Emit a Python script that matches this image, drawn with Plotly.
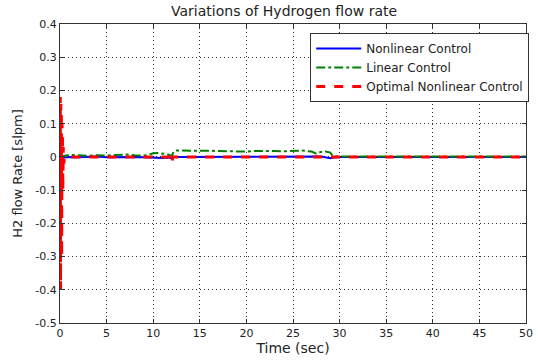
import plotly.graph_objects as go

# ---- data ----
t_nl = [0, 0.2, 0.5, 1, 2, 3, 4, 5, 6, 7, 8, 9, 10, 10.5, 11, 11.5, 12, 12.3, 13, 15, 18, 20, 22, 25, 27, 28, 29, 29.3, 30, 35, 40, 45, 50]
y_nl = [0, 0.002, -0.002, 0, -0.001, 0, 0.001, -0.001, 0, 0.001, 0, -0.001, -0.002, -0.004, -0.003, -0.002, -0.003, 0, 0, 0.001, 0, 0, 0.001, 0, 0, 0.001, -0.004, -0.002, 0, 0, 0, 0, 0]

t_lin = [0, 0.5, 1, 2, 3, 4, 5, 6, 7, 8, 9, 9.5, 10, 10.5, 11, 11.5, 12, 12.2, 12.5, 13, 14, 15, 16, 17, 18, 19, 20, 21, 22, 23, 24, 25, 26, 27, 27.5, 28, 28.5, 29, 29.3, 30, 35, 40, 45, 50]
y_lin = [0, 0.004, 0.006, 0.005, 0.003, 0.005, 0.004, 0.006, 0.007, 0.005, 0.004, 0.006, 0.011, 0.012, 0.010, 0.008, 0.003, 0.016, 0.019, 0.019, 0.020, 0.020, 0.019, 0.018, 0.017, 0.016, 0.016, 0.018, 0.019, 0.018, 0.017, 0.018, 0.019, 0.016, 0.010, 0.015, 0.016, 0.013, 0.002, 0.001, 0.001, 0.001, 0.001, 0.001]

t_opt = [0, 0.03, 0.06, 0.09, 0.12, 0.15, 0.18, 0.21, 0.24, 0.27, 0.3, 0.35, 0.4, 0.5, 1, 2, 4, 6, 8, 10, 11, 11.9, 12.0, 12.1, 12.3, 15, 20, 25, 30, 35, 40, 45, 50]
y_opt = [0, 0.18, -0.40, 0.16, -0.38, 0.12, -0.30, 0.10, -0.20, 0.06, -0.10, 0.03, -0.02, 0, 0, 0, 0, 0, 0, 0, 0, 0, -0.018, 0, 0, 0, 0, 0, 0, 0, 0, 0, 0]

x_ticks = [0, 5, 10, 15, 20, 25, 30, 35, 40, 45, 50]
y_ticks = [-0.5, -0.4, -0.3, -0.2, -0.1, 0, 0.1, 0.2, 0.3, 0.4]
y_tick_text = ["-0.5", "-0.4", "-0.3", "-0.2", "-0.1", "0", "0.1", "0.2", "0.3", "0.4"]

fig = go.Figure()
fig.add_trace(go.Scatter(x=t_nl, y=y_nl, mode="lines", name="Nonlinear Control",
                         line=dict(color="#0000ff", width=2)))
fig.add_trace(go.Scatter(x=t_lin, y=y_lin, mode="lines", name="Linear Control",
                         line=dict(color="#008000", width=2, dash="dashdot")))
fig.add_trace(go.Scatter(x=t_opt, y=y_opt, mode="lines", name="Optimal Nonlinear Control",
                         line=dict(color="#ff0000", width=3, dash="dash")))

font = "DejaVu Sans, sans-serif"
axis_common = dict(showline=True, linecolor="#333333", linewidth=1, mirror="ticks",
                   ticks="inside", ticklen=4, tickcolor="#333333",
                   showgrid=True, gridcolor="#333333", gridwidth=1, griddash="1px,3px",
                   zeroline=False, ticklabeloverflow="allow",
                   tickfont=dict(family=font, size=11, color="#222222"))

fig.update_layout(
    width=538, height=362,
    margin=dict(l=60, r=5, t=24, b=39),
    paper_bgcolor="white", plot_bgcolor="white",
    title=dict(text="Variations of Hydrogen flow rate", x=0.528, xanchor="center",
               y=0.97, yanchor="middle", font=dict(family=font, size=14, color="#222222")),
    xaxis=dict(range=[0, 50], tickvals=x_ticks,
               title=dict(text="Time (sec)", font=dict(family=font, size=14, color="#222222"), standoff=2),
               **axis_common),
    yaxis=dict(range=[-0.5, 0.4], tickvals=y_ticks, ticktext=y_tick_text,
               title=dict(text="H2 flow Rate [slpm]", font=dict(family=font, size=13, color="#222222"), standoff=9),
               **axis_common),
    legend=dict(x=0.537, y=0.97, xanchor="left", yanchor="top",
                bgcolor="white", bordercolor="#333333", borderwidth=1,
                font=dict(family=font, size=12, color="#222222"),
                tracegroupgap=0, itemwidth=45),
    showlegend=True,
)

fig.write_html("out.html")
